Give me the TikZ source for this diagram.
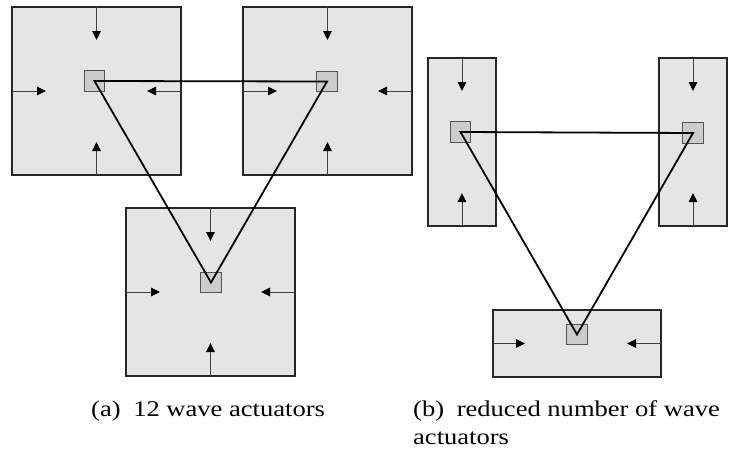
\documentclass[tikz,border=0pt]{standalone}
\usepackage{fontspec}
\setmainfont{Liberation Serif}
\newfontfamily\capfont[FakeStretch=1.18]{Liberation Serif}
\usetikzlibrary{arrows.meta}

\definecolor{tankfill}{gray}{0.90}
\definecolor{actfill}{gray}{0.80}
\definecolor{actedge}{gray}{0.33}

\begin{document}
\begin{tikzpicture}[x=1pt,y=-1pt,
  tank/.style={draw=black!85, line width=1.2pt, fill=tankfill,
    inner sep=0pt, outer sep=0pt},
  bigtank/.style={tank, minimum width=169pt, minimum height=168pt},
  talltank/.style={tank, minimum width=68pt, minimum height=168pt},
  widetank/.style={tank, minimum width=168pt, minimum height=67pt},
  sensor/.style={draw=actedge, line width=1.1pt, fill=actfill,
    minimum size=20.5pt, inner sep=0pt, outer sep=0pt},
  wave/.style={draw=black!75, line width=1pt,
    -{Triangle[length=9pt,width=8.5pt,color=black]}},
  link/.style={draw=black, line width=1.8pt, line join=miter},
  caption/.style={anchor=base west, inner sep=0pt, font=\capfont\fontsize{22.5}{29}\selectfont}
]
\useasboundingbox (0,0) rectangle (730,455);

% ---- (a) three square basins with four wave makers each ----
\node[bigtank] (A) at (96.5,91) {};
\node[bigtank] (B) at (327.5,91) {};
\node[bigtank] (C) at (210.5,292) {};

\foreach \t in {A,B,C}{
  \draw[wave] (\t.north) -- ++(0,33);
  \draw[wave] (\t.south) -- ++(0,-33);
  \draw[wave] (\t.west)  -- ++(34,0);
  \draw[wave] (\t.east)  -- ++(-34,0);
}

\node[sensor] (qa) at (94.5,81) {};
\node[sensor] (qb) at (327,81.5) {};
\node[sensor] (qc) at (211,282.5) {};
\draw[link] (qa.center) -- (qb.center) -- (qc.center) -- cycle;

% ---- (b) reduced set of wave makers ----
\node[talltank] (D) at (462,142) {};
\node[talltank] (E) at (693,142) {};
\node[widetank] (F) at (577,343.5) {};

\foreach \t in {D,E}{
  \draw[wave] (\t.north) -- ++(0,33);
  \draw[wave] (\t.south) -- ++(0,-33);
}
\draw[wave] (F.west) -- ++(32,0);
\draw[wave] (F.east) -- ++(-34,0);

\node[sensor] (qd) at (460.5,132) {};
\node[sensor] (qe) at (693,133) {};
\node[sensor] (qf) at (577,334.5) {};
\draw[link] (qd.center) -- (qe.center) -- (qf.center) -- cycle;

% ---- captions ----
\node[caption] (capa) at (91,416) {(a)\hspace{6pt} 12 wave actuators};
\node[caption] (capb) at (413,416) {(b)\hspace{6pt} reduced number of wave};
\node[caption] (capb2) at (413,444) {actuators};
\end{tikzpicture}
\end{document}
